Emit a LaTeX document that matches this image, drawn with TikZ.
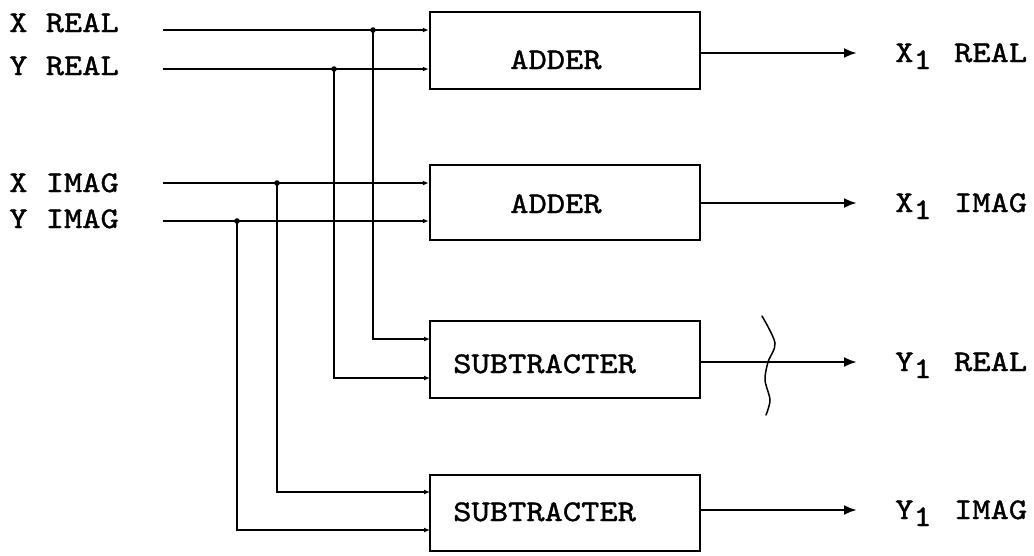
\documentclass[tikz,border=0pt]{standalone}
\usepackage{fontspec}
\setmonofont{lmmono10-regular}[Extension=.otf, FakeStretch=1.16, FakeBold=1.3]
\usetikzlibrary{arrows.meta}
\begin{document}
\begin{tikzpicture}[x=1pt,y=-1pt,
  line width=2.5pt,
  font=\ttfamily\fontsize{30}{36}\selectfont,
  blk/.style={draw, line width=2.5pt, minimum width=270pt, inner sep=0pt},
  lbl/.style={anchor=base west, inner sep=0pt},
  inarr/.style={-{Latex[length=6pt,width=5pt]}},
  outarr/.style={-{Latex[length=13pt,width=10pt]}},
  dot/.style={fill=black}
]
\useasboundingbox (0,0) rectangle (1034,555);

% boxes
\node[blk, minimum height=77pt] (b1) at (565,50.5) {};
\node[blk, minimum height=75pt] (b2) at (565,202.5) {};
\node[blk, minimum height=77pt] (b3) at (565,359.5) {};
\node[blk, minimum height=76pt] (b4) at (565,513) {};

% box texts
\node[lbl] (t1) at (509,69) {ADDER};
\node[lbl] (t2) at (509,213) {ADDER};
\node[lbl] (t3) at (452,373) {SUBTRACTER};
\node[lbl] (t4) at (452,521) {SUBTRACTER};

% input labels
\node[lbl] (lxr) at (8,32) {X REAL};
\node[lbl] (lyr) at (8,75) {Y REAL};
\node[lbl] (lxi) at (8,192) {X IMAG};
\node[lbl] (lyi) at (8,228) {Y IMAG};

% output labels
\node[lbl] (oxr) at (894,62) {X\raisebox{-7pt}{1}\hspace{4pt} REAL};
\node[lbl] (oxi) at (894,212) {X\raisebox{-7pt}{1}\hspace{4pt} IMAG};
\node[lbl] (oyr) at (894,371) {Y\raisebox{-7pt}{1}\hspace{4pt} REAL};
\node[lbl] (oyi) at (894,519) {Y\raisebox{-7pt}{1}\hspace{4pt} IMAG};

% input line starts
\coordinate (xr) at (163,30);
\coordinate (yr) at (163,69);
\coordinate (xi) at (163,183);
\coordinate (yi) at (163,221);

% junctions
\coordinate (jxr) at (373,30);
\coordinate (jyr) at (334,69);
\coordinate (jxi) at (277,183);
\coordinate (jyi) at (237,221);

% subtracter inputs
\coordinate (s1a) at (430,339);
\coordinate (s1b) at (430,378);
\coordinate (s2a) at (430,492);
\coordinate (s2b) at (430,530);

% outputs
\coordinate (o1) at (857,53);
\coordinate (o2) at (857,203);
\coordinate (o3) at (857,362);
\coordinate (o4) at (857,510);

% input lines to adders
\draw[inarr] (xr) -- (b1.west |- xr);
\draw[inarr] (yr) -- (b1.west |- yr);
\draw[inarr] (xi) -- (b2.west |- xi);
\draw[inarr] (yi) -- (b2.west |- yi);

% branches to subtracters
\draw[inarr] (jxr) |- (s1a);
\draw[inarr] (jyr) |- (s1b);
\draw[inarr] (jxi) |- (s2a);
\draw[inarr] (jyi) |- (s2b);

\fill[dot] (jxr) circle (2.8pt);
\fill[dot] (jyr) circle (2.8pt);
\fill[dot] (jxi) circle (2.8pt);
\fill[dot] (jyi) circle (2.8pt);

% outputs
\draw[outarr] (b1.east |- o1) -- (o1);
\draw[outarr] (b2.east |- o2) -- (o2);
\draw[outarr] (b3.east |- o3) -- (o3);
\draw[outarr] (b4.east |- o4) -- (o4);

% hand-drawn mark across the third output
\draw[line width=1.5pt, line cap=round] plot[smooth] coordinates {(762,316) (775,343) (768,362) (765,380) (770,400) (766,415)};
\end{tikzpicture}
\end{document}
